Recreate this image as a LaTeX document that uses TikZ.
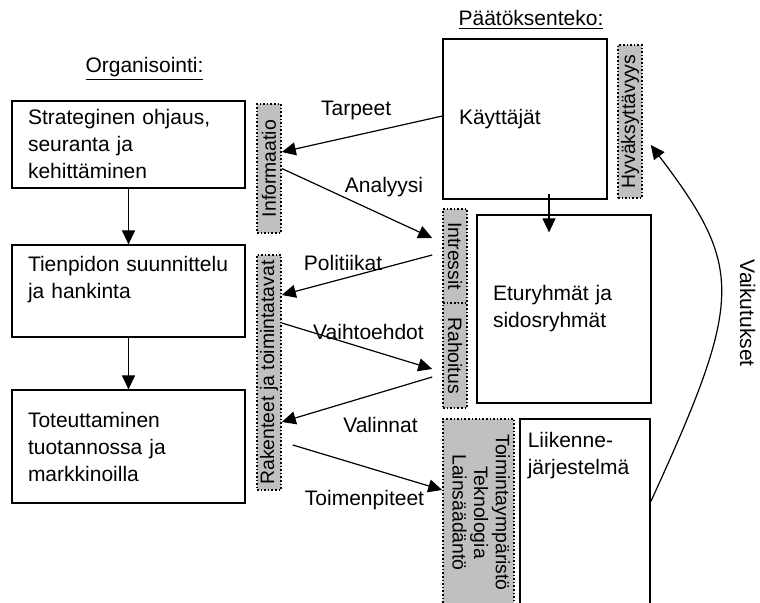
\documentclass[tikz,border=0pt]{standalone}
\usepackage{fontspec}
\setmainfont{Liberation Sans}
\usetikzlibrary{arrows.meta}
\definecolor{tagfill}{RGB}{192,192,192}

\begin{document}
\begin{tikzpicture}[x=0.5pt,y=-0.5pt,
    font=\fontsize{10.5}{13.5}\selectfont,
    box/.style={draw,line width=0.6pt,inner xsep=8pt,inner ysep=0pt,align=left},
    tag/.style={draw,densely dotted,line width=0.8pt,fill=tagfill,inner sep=0pt,
      minimum width=12pt,font=\fontsize{9.7}{10.8}\selectfont},
    arr/.style={-{Triangle[length=7pt,width=6.5pt]},line width=0.6pt}]
  \useasboundingbox (0,0) rectangle (760,603);
  \clip (0,0) rectangle (760,603);
  % Organisointi
  \node (org) at (144.5,69) {\underline{Organisointi:}};
  \node[box,text width=100.5pt,minimum height=43.5pt] (strat) at (128.5,144.5)
    {Strateginen ohjaus,\\seuranta ja\\kehittäminen};
  \node[box,text width=100.5pt,minimum height=46pt] (tien) at (128.5,291)
    {Tienpidon suunnittelu\\ja hankinta\\\mbox{}};
  \node[box,text width=100.5pt,minimum height=56.5pt] (tot) at (128.5,446.5)
    {Toteuttaminen\\tuotannossa ja\\markkinoilla};
  \node[tag,minimum height=64.5pt] (info) at (269,168.5) {\rotatebox{90}{Informaatio}};
  \node[tag,minimum height=117.5pt] (rak) at (269,372.5) {\rotatebox{90}{Rakenteet ja toimintatavat}};
  % Paatoksenteko
  \node (paat) at (531,20) {\underline{Päätöksenteko:}};
  \node[box,text width=66pt,minimum height=80pt] (kay) at (525,119) {Käyttäjät};
  \node[tag,minimum height=76.5pt] (hyv) at (630,121.5) {\rotatebox{90}{Hyväksyttävyys}};
  \node[box,text width=71pt,minimum height=94pt] (etu) at (564,309)
    {Eturyhmät ja\\sidosryhmät};
  \node[tag,minimum height=47pt] (intr) at (455,256) {\rotatebox{-90}{Intressit}};
  \node[tag,minimum height=52.5pt] (rah) at (455,355.5) {\rotatebox{-90}{Rahoitus}};
  \node[box,minimum width=65pt,minimum height=93.5pt] (liik) at (585,512.5) {};
  \node[inner sep=0pt,align=left,anchor=north west] (liiktxt)
    at ([shift={(4pt,-6.5pt)}]liik.north west) {Liikenne-\\järjestelmä};
  \node[tag,minimum width=35.5pt,minimum height=93.5pt] (toim) at (478.5,512.5)
    {\rotatebox{-90}{\begin{tabular}{@{}c@{}}Toimintaympäristö\\Teknologia\\Lainsäädäntö\end{tabular}}};
  % nuolet
  \path (strat) edge [arr] (tien);
  \path (tien) edge [arr] (tot);
  \path ([xshift=12pt,yshift=3pt]kay.south) edge [arr] ([xshift=-7.5pt,yshift=-9pt]etu.north);
  \path ([yshift=1.5pt]kay.west) edge [arr] node [shift={(-6,-24)}] {Tarpeet}
    ([yshift=8.25pt]info.east);
  \path (info.east) edge [arr] node [shift={(27,-16)}] {Analyysi}
    ([xshift=-5pt,yshift=9pt]intr.west);
  \path ([xshift=-5pt,yshift=0.5pt]intr.west) edge [arr] node [shift={(-14,-12)}] {Politiikat}
    ([yshift=38.75pt]rak.east);
  \path ([yshift=24.75pt]rak.east) edge [arr] node [shift={(11.5,-14)}] {Vaihtoehdot}
    ([xshift=-5pt,yshift=-6.75pt]rah.west);
  \path ([xshift=-5pt,yshift=-10.75pt]rah.west) edge [arr] node [shift={(23.5,25.5)}] {Valinnat}
    ([yshift=-24.75pt]rak.east);
  \path ([xshift=5.5pt,yshift=-36.25pt]rak.east) edge [arr] node [shift={(-3,32.5)}] {Toimenpiteet}
    ([yshift=11.25pt]toim.west);
  \draw[arr] ([yshift=5.25pt]liik.east) .. controls (744,298) and (744,268) ..
    node [pos=0.5,shift={(27,20)},rotate=-90] {Vaikutukset}
    ([xshift=4pt,yshift=-11.75pt]hyv.east);
\end{tikzpicture}
\end{document}
